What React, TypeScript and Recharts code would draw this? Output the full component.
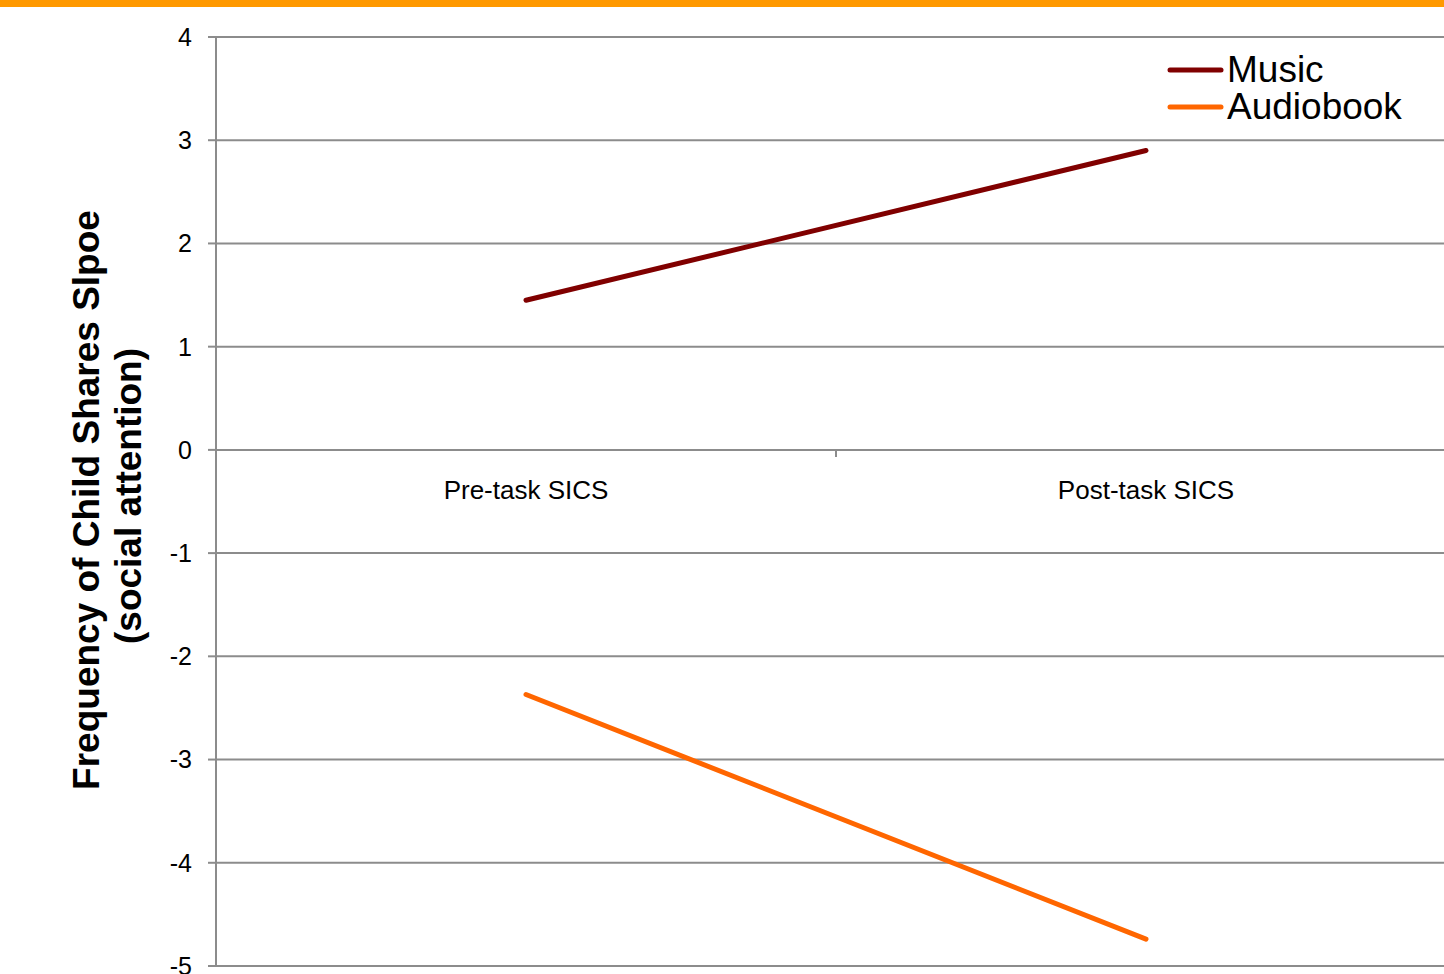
import React from "react";
import { CartesianGrid, Line, LineChart, XAxis, YAxis } from "recharts";

const categories = ["Pre-task SICS", "Post-task SICS"];
const musicValues = [1.45, 2.9];
const audiobookValues = [-2.37, -4.74];
const yTicks = [-5, -4, -3, -2, -1, 0, 1, 2, 3, 4];

const data = categories.map((c, i) => ({
  name: c,
  music: musicValues[i],
  audiobook: audiobookValues[i],
}));

const FONT = "'Liberation Sans', Arial, sans-serif";
const GRID = "#8c8c8c";
const MUSIC = "#800000";
const AUDIO = "#ff6600";

const CHART_W = 1470;
const CHART_H = 974;
const TOP = 37;
const X_AXIS_H = 8;
const PLOT_H = CHART_H - TOP - X_AXIS_H;
const PLOT_LEFT = 216;
const RIGHT = 14;
const PLOT_W = CHART_W - PLOT_LEFT - RIGHT;
const zeroY = TOP + (4 / 9) * PLOT_H;

function CategoryTick(props: any) {
  const { x, payload, index } = props;
  return (
    <g>
      {index === 0 && (
        <line
          x1={x + PLOT_W / 4}
          x2={x + PLOT_W / 4}
          y1={zeroY}
          y2={zeroY + 7}
          stroke={GRID}
          strokeWidth={2}
        />
      )}
      <text
        x={x}
        y={zeroY + 49}
        textAnchor="middle"
        fontSize={26}
        fontFamily={FONT}
        fill="#000"
      >
        {payload.value}
      </text>
    </g>
  );
}

function YTitle() {
  return (
    <g fontFamily={FONT} fontWeight="bold" fontSize={37} fill="#000">
      <text x={99} y={500} transform="rotate(-90 99 500)" textAnchor="middle">
        Frequency of Child Shares Slpoe
      </text>
      <text x={141} y={496} transform="rotate(-90 141 496)" textAnchor="middle">
        (social attention)
      </text>
    </g>
  );
}

function LegendBox() {
  const items = [
    { label: "Music", color: MUSIC },
    { label: "Audiobook", color: AUDIO },
  ];
  return (
    <div
      style={{
        position: "absolute",
        left: 1166,
        top: 51,
        fontFamily: FONT,
        fontSize: 37,
        lineHeight: "37px",
        whiteSpace: "nowrap",
      }}
    >
      {items.map((it) => (
        <div key={it.label} style={{ display: "flex", alignItems: "center" }}>
          <svg width={61} height={37}>
            <line
              x1={4}
              x2={55}
              y1={19}
              y2={19}
              stroke={it.color}
              strokeWidth={5}
              strokeLinecap="round"
            />
          </svg>
          <span style={{ color: "#000" }}>{it.label}</span>
        </div>
      ))}
    </div>
  );
}

export default function App() {
  return (
    <div
      style={{
        position: "absolute",
        left: 0,
        top: 0,
        width: 1444,
        height: 974,
        overflow: "hidden",
        background: "#fff",
      }}
    >
      <div
        style={{
          position: "absolute",
          left: 0,
          top: 0,
          width: 1444,
          height: 7,
          background: "#ff9900",
        }}
      />
      <LineChart
        width={CHART_W}
        height={CHART_H}
        data={data}
        margin={{ top: TOP, right: RIGHT, bottom: 0, left: 0 }}
      >
        <CartesianGrid
          vertical={false}
          stroke={GRID}
          strokeWidth={2}
          horizontalValues={yTicks}
        />
        <XAxis
          dataKey="name"
          height={X_AXIS_H}
          axisLine={false}
          tickLine={false}
          tick={<CategoryTick />}
          interval={0}
          padding={{ left: PLOT_W / 4, right: PLOT_W / 4 }}
        />
        <YAxis
          width={PLOT_LEFT}
          domain={[-5, 4]}
          ticks={yTicks}
          interval={0}
          axisLine={{ stroke: GRID, strokeWidth: 2 }}
          tickLine={{ stroke: GRID, strokeWidth: 2 }}
          tickSize={8}
          tickMargin={16}
          tick={{ fontSize: 25, fontFamily: FONT, fill: "#000" }}
          label={{ content: () => <YTitle /> }}
        />
        <Line
          dataKey="music"
          name="Music"
          stroke={MUSIC}
          strokeWidth={5}
          strokeLinecap="round"
          dot={false}
          isAnimationActive={false}
        />
        <Line
          dataKey="audiobook"
          name="Audiobook"
          stroke={AUDIO}
          strokeWidth={5}
          strokeLinecap="round"
          dot={false}
          isAnimationActive={false}
        />
      </LineChart>
      <LegendBox />
    </div>
  );
}
